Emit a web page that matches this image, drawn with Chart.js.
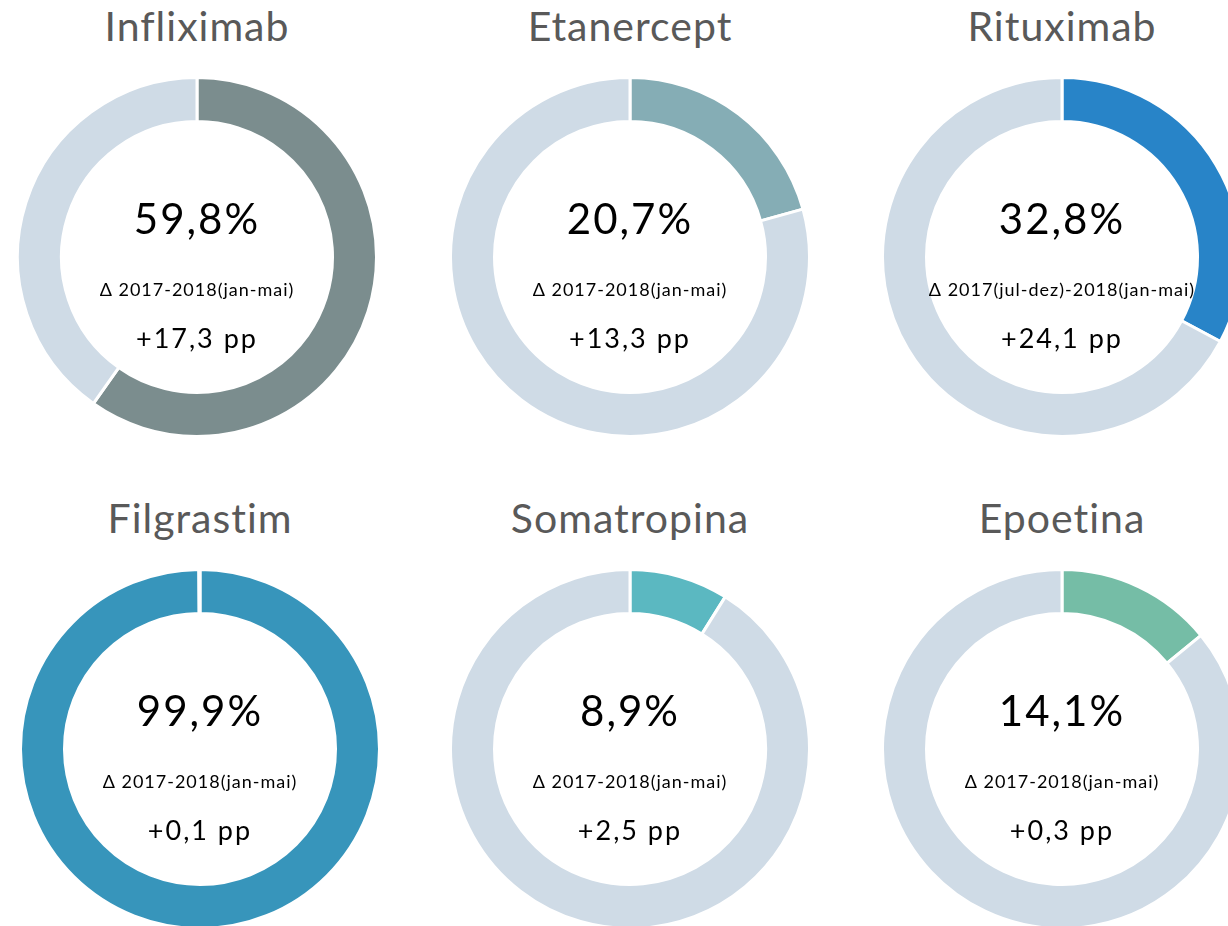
<!DOCTYPE html>
<html>
<head>
<meta charset="utf-8">
<script src="https://cdn.jsdelivr.net/npm/chart.js@4/dist/chart.umd.min.js"></script>
<style>
    html, body { margin: 0; padding: 0; background: #fff; }
    body { width: 1228px; height: 926px; overflow: hidden; position: relative; font-family: "Lato", "DejaVu Sans", sans-serif; }
    .cell { position: absolute; width: 362px; height: 362px; }
    .title { position: absolute; width: 400px; text-align: center; font-size: 41px; line-height: 41px; letter-spacing: 1px; color: #595959; white-space: nowrap; }
    .txt { position: absolute; width: 400px; text-align: center; color: #000; white-space: nowrap; }
    .pct { font-size: 42px; line-height: 42px; letter-spacing: 2px; }
    .per { font-size: 18px; line-height: 18px; letter-spacing: 1px; }
    .pp { font-size: 27px; line-height: 27px; letter-spacing: 2px; }
</style>
</head>
<body>
<script>
    // data
    const drugs = ["Infliximab", "Etanercept", "Rituximab", "Filgrastim", "Somatropina", "Epoetina"];
    const shares = [59.8, 20.7, 32.8, 99.9, 8.9, 14.1];
    const periods = [
        "Δ 2017-2018(jan-mai)",
        "Δ 2017-2018(jan-mai)",
        "Δ 2017(jul-dez)-2018(jan-mai)",
        "Δ 2017-2018(jan-mai)",
        "Δ 2017-2018(jan-mai)",
        "Δ 2017-2018(jan-mai)"
    ];
    const deltas = [17.3, 13.3, 24.1, 0.1, 2.5, 0.3];

    // styles
    const colors = ["#7B8D8E", "#85ADB5", "#2884C8", "#3795BB", "#5BB8C1", "#75BDA6"];
    const restColor = "#CFDBE6";
    const centers = [[197, 257], [630, 257], [1062, 257], [200, 749], [630, 749], [1062, 749]];

    const fmt = v => v.toFixed(1).replace(".", ",");

    drugs.forEach((name, i) =>
    {
        const [cx, cy] = centers[i];

        const cell = document.createElement("div");
        cell.className = "cell";
        cell.style.left = (cx - 181) + "px";
        cell.style.top = (cy - 181) + "px";
        cell.innerHTML = `<canvas width="362" height="362"></canvas>`;
        document.body.appendChild(cell);

        new Chart(cell.querySelector("canvas"), {
            type: "doughnut",
            data: {
                labels: [name, "Outros"],
                datasets: [{
                    data: [shares[i], +(100 - shares[i]).toFixed(1)],
                    backgroundColor: [colors[i], restColor],
                    borderColor: "#fff",
                    borderWidth: 3
                }]
            },
            options: {
                responsive: false,
                animation: false,
                devicePixelRatio: 1,
                cutout: 135.5,
                layout: { padding: 0 },
                plugins: {
                    legend: { display: false },
                    tooltip: { enabled: false }
                }
            }
        });

        const add = (cls, text, top) =>
        {
            const d = document.createElement("div");
            d.className = cls;
            d.textContent = text;
            d.style.left = (cx - 200) + "px";
            d.style.top = top + "px";
            document.body.appendChild(d);
        };

        add("title", name, cy - 252);
        add("txt pct", fmt(shares[i]) + "%", cy - 60);
        add("txt per", periods[i], cy + 23);
        add("txt pp", "+" + fmt(deltas[i]) + " pp", cy + 67);
    });
</script>
</body>
</html>
